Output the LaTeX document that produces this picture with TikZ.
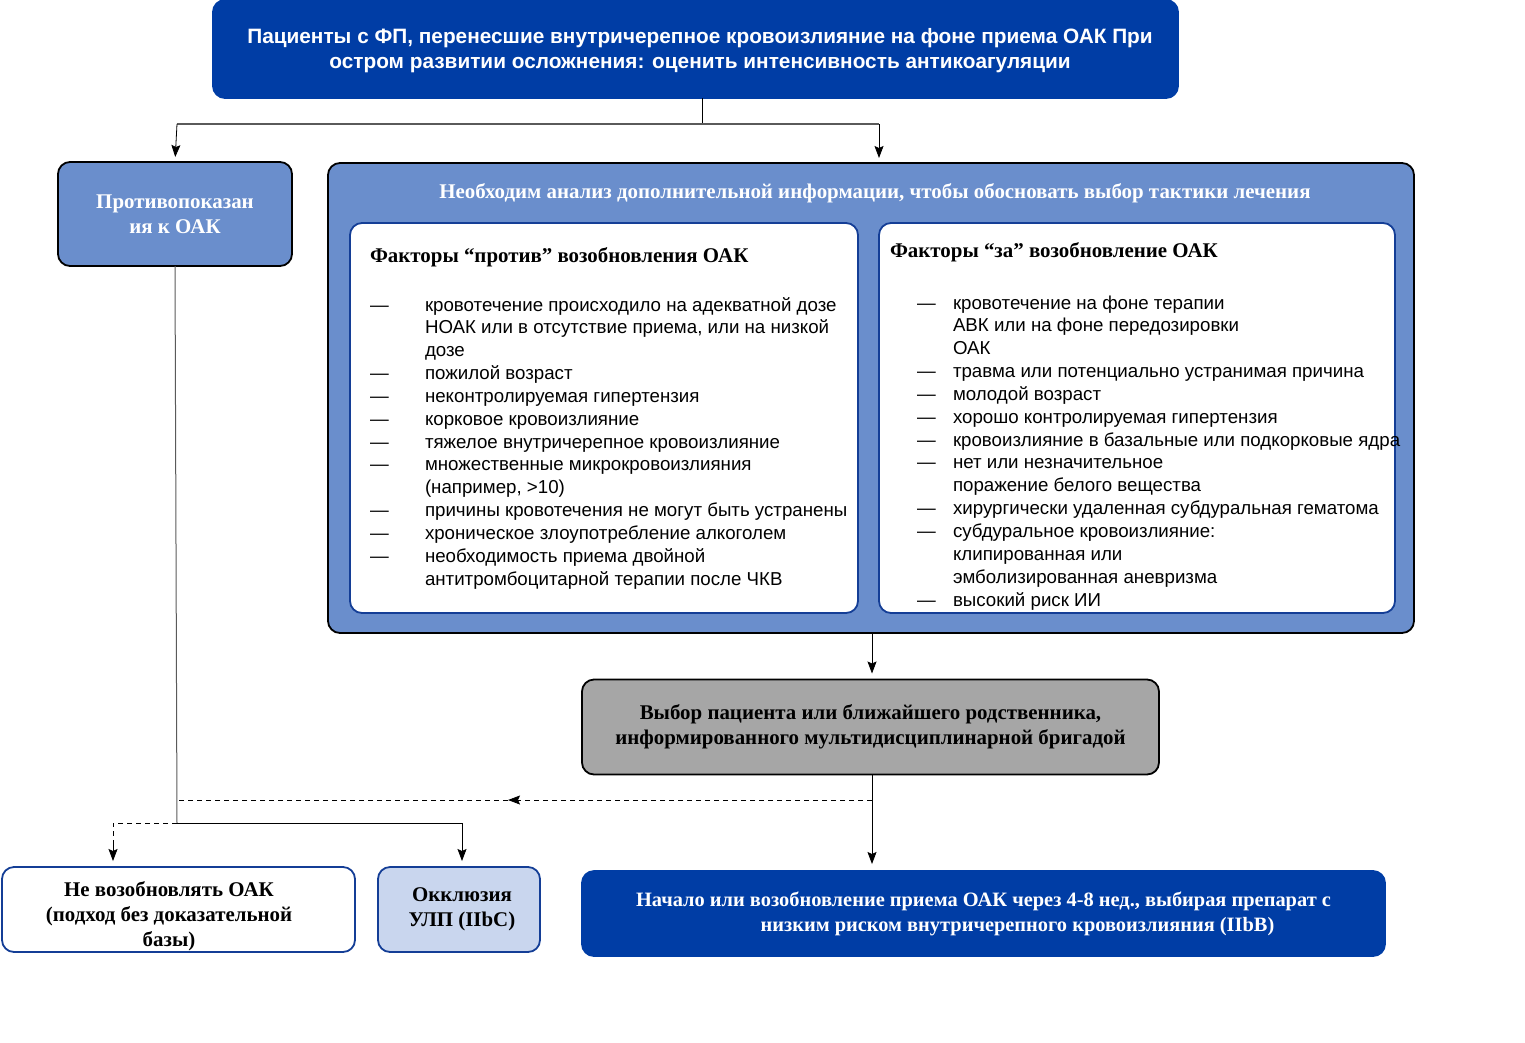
\documentclass[tikz,border=0pt]{standalone}
\usepackage{fontspec}
\setmainfont{Liberation Serif}
\setsansfont{Liberation Sans}
\usetikzlibrary{arrows.meta}
\definecolor{darkblue}{RGB}{0,61,165}
\definecolor{midblue}{RGB}{106,142,204}
\definecolor{paleblue}{RGB}{201,214,238}
\definecolor{boxgray}{RGB}{166,166,166}
\definecolor{edgeblue}{RGB}{20,62,150}
\definecolor{linegray}{RGB}{90,90,90}
\newcommand{\itemfont}{\sffamily\fontsize{18.7}{22.85}\selectfont}
\newcommand{\boldserif}{\rmfamily\bfseries\fontsize{20.9}{25}\selectfont}
\begin{document}
\begin{tikzpicture}
  [x=1pt,y=-1pt,
   every node/.style={inner sep=0pt,outer sep=0pt},
   box/.style={rounded corners=12pt,line width=1.8pt,align=center},
   darkbox/.style={box,draw=darkblue,fill=darkblue,text=white},
   bluebox/.style={box,draw=black,fill=midblue,text=white,font=\boldserif},
   whitebox/.style={box,draw=edgeblue,fill=white,font=\boldserif},
   palebox/.style={box,draw=edgeblue,fill=paleblue,font=\boldserif},
   graybox/.style={box,draw=black,fill=boxgray,font=\boldserif},
   arrow/.style={-{Stealth[length=12pt,width=9pt,inset=2pt]},line width=0.8pt},
   dashline/.style={dash pattern=on 5pt off 4pt,line width=0.8pt}]
  \useasboundingbox (0,0) rectangle (1525,1042);

  \node[darkbox,minimum width=965,minimum height=98,
        font=\sffamily\bfseries\fontsize{20.8}{25}\selectfont] (top) at (695.5,49) {};
  \node[text=white,align=center,font=\sffamily\bfseries\fontsize{20.8}{25}\selectfont]
    (toptext) at (700,51)
    {Пациенты с ФП, перенесшие внутричерепное кровоизлияние на фоне приема ОАК При\\
     остром развитии осложнения: оценить интенсивность антикоагуляции};

  \node[bluebox,minimum width=234,minimum height=104] (contra) at (175,214)
    {Противопоказан\\ия к ОАК};

  \node[bluebox,minimum width=1086,minimum height=470] (info) at (871,398) {};
  \node[text=white,font=\boldserif] (infotitle) at (875,193)
    {Необходим анализ дополнительной информации, чтобы обосновать выбор тактики лечения};

  \node[whitebox,minimum width=508,minimum height=390] (against) at (604,418) {};
  \node[whitebox,minimum width=516,minimum height=390] (pro) at (1137,418) {};

  \node[font=\boldserif,anchor=base west] (againsttitle) at (370,262)
    {Факторы “против” возобновления ОАК};
  \node[font=\boldserif,anchor=base west] (protitle) at (890,257)
    {Факторы “за” возобновление ОАК};

  \node[anchor=base west,font=\itemfont] (againstlist) at (370,311)
    {\begin{tabular}[t]{@{}p{55pt}@{}l@{}}
     — & кровотечение происходило на адекватной дозе\\
       & НОАК или в отсутствие приема, или на низкой\\
       & дозе\\
     — & пожилой возраст\\
     — & неконтролируемая гипертензия\\
     — & корковое кровоизлияние\\
     — & тяжелое внутричерепное кровоизлияние\\
     — & множественные микрокровоизлияния\\
       & (например, >10)\\
     — & причины кровотечения не могут быть устранены\\
     — & хроническое злоупотребление алкоголем\\
     — & необходимость приема двойной\\
       & антитромбоцитарной терапии после ЧКВ
     \end{tabular}};

  \node[anchor=base west,font=\itemfont] (prolist) at (917,309)
    {\begin{tabular}[t]{@{}p{36pt}@{}l@{}}
     — & кровотечение на фоне терапии\\
       & АВК или на фоне передозировки\\
       & ОАК\\
     — & травма или потенциально устранимая причина\\
     — & молодой возраст\\
     — & хорошо контролируемая гипертензия\\
     — & кровоизлияние в базальные или подкорковые ядра\\
     — & нет или незначительное\\
       & поражение белого вещества\\
     — & хирургически удаленная субдуральная гематома\\
     — & субдуральное кровоизлияние:\\
       & клипированная или\\
       & эмболизированная аневризма\\
     — & высокий риск ИИ
     \end{tabular}};

  \node[graybox,minimum width=577,minimum height=95] (choice) at (870.5,727)
    {Выбор пациента или ближайшего родственника,\\
     информированного мультидисциплинарной бригадой};

  \node[whitebox,minimum width=353,minimum height=85] (noresume) at (178.5,909.5) {};
  \node[font=\boldserif,align=center] (noresumetext) at (169,916)
    {Не возобновлять ОАК\\(подход без доказательной\\базы)};
  \node[palebox,minimum width=162,minimum height=85] (laa) at (459,909.5) {};
  \node[font=\boldserif,align=center] (laatext) at (462,909)
    {Окклюзия\\УЛП (IIbC)};
  \node[darkbox,minimum width=803,minimum height=85,font=\rmfamily\bfseries\fontsize{20.4}{25}\selectfont]
    (resume) at (983.5,913.5)
    {Начало или возобновление приема ОАК через 4-8 нед., выбирая препарат с\\
     \hspace*{68pt}низким риском внутричерепного кровоизлияния (IIbB)};

  \coordinate (split) at (702,124);
  \coordinate (fork) at (177,823);
  \coordinate (dashstart) at (872,800);
  \coordinate (dashmid) at (508,800);
  \coordinate (dashend) at (177,800);

  \draw[line width=0.8pt] (702,98) -- (split);
  \draw[linegray,line width=1.4pt] (177,124) -- (879,124);
  \draw[arrow,shorten >=5pt] (177,124) -- (contra.north);
  \draw[arrow,shorten >=5pt] (879,124) -- (879,163);
  \draw[linegray,line width=1pt] (contra.south) -- (fork);
  \draw[arrow,shorten >=6pt] (info.south -| dashstart) -- (choice.north -| dashstart);
  \draw[arrow,shorten >=7pt] (choice.south -| dashstart) -- (resume.north -| dashstart);
  \draw[dashline,-{Stealth[length=12pt,width=9pt,inset=2pt]}] (dashstart) -- (dashmid);
  \draw[dashline] (dashmid) -- (dashend);
  \draw[line width=0.8pt] (fork) -- (462,823);
  \draw[arrow,shorten >=6pt] (462,823) -- (laa.north -| 462,0);
  \draw[dashline] (fork) -- (113,823) -- (113,840);
  \draw[arrow,shorten >=6pt] (113,840) -- (noresume.north -| 113,0);
\end{tikzpicture}
\end{document}
